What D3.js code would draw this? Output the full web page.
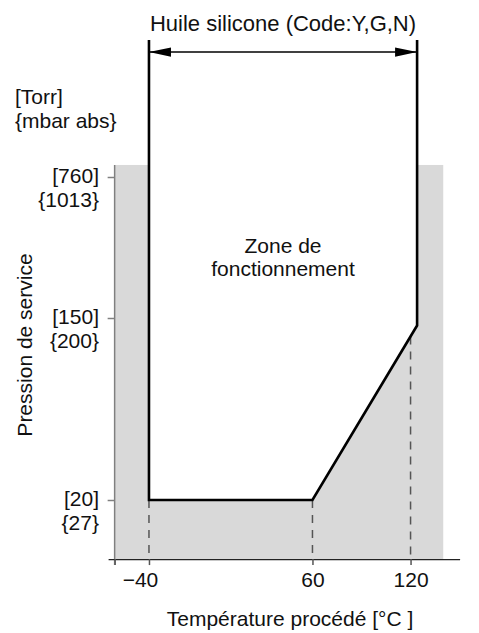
<!DOCTYPE html>
<html lang="fr">
<head>
<meta charset="UTF-8">
<title>Zone de fonctionnement - Huile silicone</title>
<script src="https://d3js.org/d3.v7.min.js"></script>
<style>
  body { margin: 0; background: #fff; }
  text { font-family: "Liberation Sans", Arial, Helvetica, sans-serif; fill: #111; }
</style>
</head>
<body>
<div id="chart"></div>
<script>
// temperature axis (°C)
const tempTicks = [-40, 60, 120];
// pressure axis (Torr), with the matching mbar labels
const pressTicks = [760, 150, 20];
const torrLabels = ["[760]", "[150]", "[20]"];
const mbarLabels = ["{1013}", "{200}", "{27}"];

// operating zone outline (open at the top)
const zoneTemp  = [-40, -40, 60, 124, 124];
const zonePress = [3680, 20, 20, 138, 3680];

// shaded area and axis extents
const bgTemp = [-61, 140];
const bgPress = [10.4, 873];
const axisTemp = [-65, 150];

// range arrow "Huile silicone"
const arrowTemp = [-40, 124];
const arrowPress = 3200;

const W = 479, H = 633;

const svg = d3.select("#chart").append("svg")
    .attr("width", W)
    .attr("height", H);

// scales
const x = d3.scaleLinear()
    .domain(axisTemp)
    .range([108.1, 459.6]);

// schematic pressure axis: piecewise log
const y = d3.scaleLog()
    .domain([20, 150, 760])
    .range([500, 318, 177]);

const axisY = y(bgPress[0]);

// grey background
svg.append("rect")
    .attr("x", x(bgTemp[0]))
    .attr("y", y(bgPress[1]))
    .attr("width", x(bgTemp[1]) - x(bgTemp[0]))
    .attr("height", axisY - y(bgPress[1]))
    .attr("fill", "#d9d9d9");

// white operating zone
const zonePts = zoneTemp.map((t, i) => [x(t), y(zonePress[i])]);
svg.append("path")
    .attr("d", d3.line()(zonePts) + "Z")
    .attr("fill", "#fff");

// dashed guides down to the axis
function boundaryY(t) {
  const px = x(t);
  for (let i = 0; i < zonePts.length - 1; i++) {
    const a = zonePts[i], b = zonePts[i + 1];
    if (b[0] !== a[0] && px >= Math.min(a[0], b[0]) && px <= Math.max(a[0], b[0])) {
      return a[1] + (b[1] - a[1]) * (px - a[0]) / (b[0] - a[0]);
    }
  }
  return zonePts[1][1];
}
svg.append("g").selectAll("line")
  .data(tempTicks)
  .join("line")
    .attr("x1", d => x(d))
    .attr("x2", d => x(d))
    .attr("y1", d => boundaryY(d))
    .attr("y2", axisY)
    .attr("stroke", "#555")
    .attr("stroke-width", 1.5)
    .attr("stroke-dasharray", "8,7");

// y axis (grey line + ticks)
svg.append("line")
    .attr("x1", x(bgTemp[0])).attr("x2", x(bgTemp[0]))
    .attr("y1", y(bgPress[1])).attr("y2", axisY + 6)
    .attr("stroke", "#808080")
    .attr("stroke-width", 1.5);

const yAxis = svg.append("g")
    .attr("transform", `translate(${x(bgTemp[0])},0)`)
    .call(d3.axisLeft(y).tickValues(pressTicks).tickSize(7).tickFormat(""));
yAxis.select(".domain").remove();
yAxis.selectAll(".tick line").attr("stroke", "#808080").attr("stroke-width", 1.5);

const yLab = svg.append("g").selectAll("text")
  .data(pressTicks)
  .join("text")
    .attr("x", 99)
    .attr("y", d => y(d))
    .attr("text-anchor", "end")
    .style("font-size", "21px");
yLab.append("tspan").attr("x", 99).attr("dy", "0.3em").text((d, i) => torrLabels[i]);
yLab.append("tspan").attr("x", 99).attr("dy", 24).text((d, i) => mbarLabels[i]);

// x axis
const xAxis = svg.append("g")
    .attr("transform", `translate(0,${axisY})`)
    .call(d3.axisBottom(x)
      .tickValues([bgTemp[0]].concat(tempTicks))
      .tickSize(6)
      .tickSizeOuter(0)
      .tickFormat(d => tempTicks.includes(d) ? d3.format("")(d) : ""));
xAxis.select(".domain").attr("stroke", "#222").attr("stroke-width", 1.3);
xAxis.selectAll(".tick line").attr("stroke", "#555").attr("stroke-width", 1.5);
xAxis.selectAll(".tick text")
    .attr("y", 28)
    .attr("dy", 0)
    .attr("dx", d => d < 0 ? -9 : 0)
    .style("font-size", "21px")
    .style("font-family", "'Liberation Sans', Arial, sans-serif")
    .attr("fill", "#111");

// zone outline
svg.append("path")
    .attr("d", d3.line()(zonePts))
    .attr("fill", "none")
    .attr("stroke", "#000")
    .attr("stroke-width", 2.6)
    .attr("stroke-linejoin", "miter");

// range arrow
const ay = y(arrowPress);
const ax0 = x(arrowTemp[0]), ax1 = x(arrowTemp[1]);
svg.append("line")
    .attr("x1", ax0).attr("x2", ax1)
    .attr("y1", ay).attr("y2", ay)
    .attr("stroke", "#000")
    .attr("stroke-width", 1.5);
svg.append("path")
    .attr("d", `M${ax0},${ay}L${ax0 + 22},${ay - 4.7}L${ax0 + 22},${ay + 4.7}Z` +
               `M${ax1},${ay}L${ax1 - 22},${ay - 4.7}L${ax1 - 22},${ay + 4.7}Z`)
    .attr("fill", "#000");

// texts
svg.append("text")
    .attr("x", 283).attr("y", 31)
    .attr("text-anchor", "middle")
    .style("font-size", "22px")
    .text("Huile silicone (Code:Y,G,N)");

svg.append("text")
    .attr("x", 15).attr("y", 104)
    .style("font-size", "21px")
    .text("[Torr]");
svg.append("text")
    .attr("x", 15).attr("y", 128)
    .style("font-size", "21px")
    .text("{mbar abs}");

const zt = svg.append("text")
    .attr("text-anchor", "middle")
    .style("font-size", "21px");
zt.append("tspan").attr("x", 283).attr("y", 253).text("Zone de");
zt.append("tspan").attr("x", 283).attr("y", 276).text("fonctionnement");

svg.append("text")
    .attr("transform", "translate(32,345) rotate(-90)")
    .attr("text-anchor", "middle")
    .style("font-size", "21px")
    .text("Pression de service");

svg.append("text")
    .attr("x", 290).attr("y", 626)
    .attr("text-anchor", "middle")
    .style("font-size", "21px")
    .text("Température procédé [°C ]");
</script>
</body>
</html>
